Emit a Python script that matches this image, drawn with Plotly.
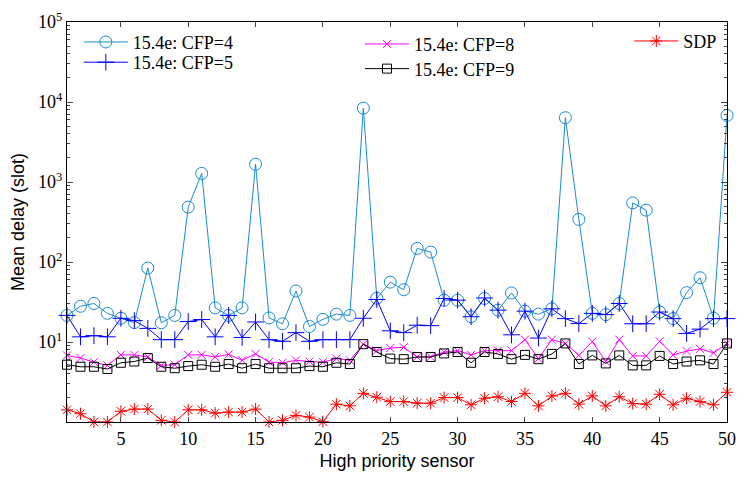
import plotly.graph_objects as go

sensors = list(range(1, 51))

cfp4 = [21.5, 28, 30.3, 22.8, 19.8, 17.5, 84, 17.4, 21.5, 485,
        1280, 26.7, 21.5, 26.7, 1670, 20, 16.9, 43.4, 15.6, 19.2,
        22.3, 21.5, 8380, 35.2, 56, 45, 148, 133, 33.3, 33.3,
        20.7, 35, 25, 41, 24.3, 22.3, 26, 6360, 341, 22.8,
        22, 30.3, 548, 445, 23.7, 19.6, 41.4, 63.5, 19.9, 6800]

cfp5 = [21.5, 11.6, 12, 11.6, 19.8, 18.5, 14.8, 10.7, 10.7, 18,
        19.1, 11.6, 21.5, 11.4, 17.8, 10.7, 10.2, 13.1, 10.2, 10.7,
        10.7, 10.7, 19.8, 34, 13.8, 13.1, 16.2, 16, 35, 33.3,
        20.7, 35.5, 25, 12.3, 24.3, 11.2, 26, 19.6, 17, 22.8,
        22, 30.3, 16.9, 16.9, 23.7, 19.6, 12.8, 14.5, 19.6, 19.6]

cfp8 = [6.8, 6.3, 5.6, 5.1, 6.9, 6.9, 6.5, 5.1, 5.2, 6.9,
        6.9, 6.5, 7.0, 5.9, 7.1, 5.6, 5.5, 5.9, 5.7, 5.6,
        6.2, 5.9, 9.4, 7.8, 8.4, 8.6, 6.5, 6.5, 7.5, 7.8,
        6.9, 7.8, 7.8, 7.8, 10.7, 6.2, 10.7, 9.6, 6.8, 10.1,
        5.7, 10.7, 6.7, 6.7, 10.2, 6.9, 7.7, 8.2, 7.3, 9.6]

cfp9 = [5.2, 4.9, 4.9, 4.6, 5.5, 5.7, 6.3, 4.9, 4.7, 5.0,
        5.2, 4.9, 5.3, 4.7, 5.3, 4.7, 4.7, 4.7, 5.0, 4.9,
        5.5, 5.3, 9.4, 7.5, 6.2, 6.1, 6.5, 6.5, 7.2, 7.5,
        5.5, 7.5, 7.1, 6.1, 6.9, 6.1, 7.1, 9.6, 5.3, 6.8,
        5.4, 6.8, 5.1, 5.1, 6.7, 5.3, 5.7, 5.9, 5.3, 9.6]

sdp = [1.42, 1.27, 1.0, 1.0, 1.36, 1.45, 1.45, 1.05, 1.0, 1.42,
       1.42, 1.29, 1.33, 1.33, 1.45, 1.0, 1.05, 1.21, 1.15, 1.01,
       1.67, 1.59, 2.28, 2.04, 1.80, 1.80, 1.72, 1.72, 2.02, 2.02,
       1.64, 1.98, 2.07, 1.80, 2.28, 1.59, 2.11, 2.28, 1.67, 2.12,
       1.59, 2.07, 1.70, 1.67, 2.22, 1.64, 1.98, 1.80, 1.64, 2.35]

names = ["15.4e: CFP=4", "15.4e: CFP=5", "15.4e: CFP=8", "15.4e: CFP=9", "SDP"]
x_ticks = [5, 10, 15, 20, 25, 30, 35, 40, 45, 50]
y_ticks = [10, 100, 1000, 10000, 100000]
y_ticktext = ["10<sup>1</sup>", "10<sup>2</sup>", "10<sup>3</sup>", "10<sup>4</sup>", "10<sup>5</sup>"]

series = [
    (cfp4, "#1a8bd0", "circle-open", 12, "legend"),
    (cfp5, "#0000ff", "cross-thin-open", 12, "legend2"),
    (cfp8, "#ff00ff", "x-thin-open", 8, "legend3"),
    (cfp9, "#000000", "square-open", 9, "legend4"),
    (sdp, "#ff0000", "asterisk-open", 10, "legend5"),
]

fig = go.Figure()
for (vals, color, sym, size, leg), name in zip(series, names):
    fig.add_trace(go.Scatter(
        x=sensors, y=vals, name=name, mode="lines+markers",
        line=dict(color=color, width=1),
        marker=dict(symbol=sym, size=size, color=color, line=dict(color=color, width=1)),
        cliponaxis=False, legend=leg,
    ))

minor_vals = [m * 10 ** k for k in range(0, 5) for m in range(2, 10)]

legfont = dict(family="Liberation Serif", size=18, color="black")
def leg(x, y):
    return dict(x=x, y=y, xanchor="left", yanchor="middle", xref="paper", yref="paper",
                bgcolor="rgba(0,0,0,0)", borderwidth=0, font=legfont, itemwidth=44)

def px_to_paper_x(px):
    return (px - 67) / 669.0

def px_to_paper_y(py):
    return (424 - py) / 405.0

fig.update_layout(
    width=746, height=477,
    margin=dict(l=67, r=10, t=19, b=53),
    paper_bgcolor="white", plot_bgcolor="white",
    showlegend=True,
    legend=leg(px_to_paper_x(79), px_to_paper_y(39.5)),
    legend2=leg(px_to_paper_x(79), px_to_paper_y(60)),
    legend3=leg(px_to_paper_x(364), px_to_paper_y(41.5)),
    legend4=leg(px_to_paper_x(364), px_to_paper_y(66.5)),
    legend5=leg(px_to_paper_x(637), px_to_paper_y(38.5)),
    xaxis=dict(
        range=[1, 50], tickvals=x_ticks, ticks="inside", ticklen=5,
        showline=True, linecolor="black", linewidth=1, mirror="ticks",
        showgrid=False, zeroline=False,
        tickfont=dict(family="Liberation Serif", size=18, color="black"),
        title=dict(text="High priority sensor", standoff=6,
                   font=dict(family="Liberation Sans", size=18, color="black")),
    ),
    yaxis=dict(
        type="log", range=[0, 5], tickvals=y_ticks, ticktext=y_ticktext,
        ticks="inside", ticklen=6,
        minor=dict(tickvals=minor_vals, ticks="inside", ticklen=3, showgrid=False),
        showline=True, linecolor="black", linewidth=1, mirror="ticks",
        showgrid=False, zeroline=False,
        tickfont=dict(family="Liberation Serif", size=18, color="black"),
        title=dict(text="Mean delay (slot)", standoff=8,
                   font=dict(family="Liberation Sans", size=18, color="black")),
    ),
)

fig.write_html("out.html")
